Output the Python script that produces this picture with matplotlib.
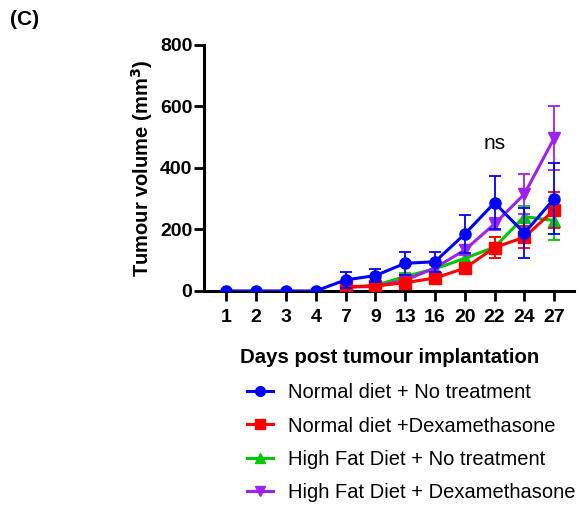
import numpy as np
import matplotlib.pyplot as plt
from matplotlib.lines import Line2D

plt.rcParams['font.family'] = ['Liberation Sans', 'DejaVu Sans']

days = ['1', '2', '3', '4', '7', '9', '13', '16', '20', '22', '24', '27']
nan = np.nan

nd_nt = [0, 0, 0, 0, 36, 50, 90, 95, 185, 287, 188, 300]
nd_nt_err = [0, 0, 0, 0, 25, 20, 38, 33, 63, 87, 81, 115]
nd_dex = [nan, nan, nan, nan, 14, 16, 27, 42, 74, 141, 175, 263]
nd_dex_err = [nan, nan, nan, nan, 5, 6, 10, 10, 12, 35, 36, 58]
hfd_nt = [nan, nan, nan, nan, 12, 18, 47, 72, 106, 142, 242, 229]
hfd_nt_err = [nan, nan, nan, nan, 5, 6, 12, 12, 15, 35, 35, 63]
hfd_dex = [nan, nan, nan, nan, 12, 15, 35, 75, 133, 218, 315, 497]
hfd_dex_err = [nan, nan, nan, nan, 5, 6, 10, 12, 15, 20, 65, 105]

labels = ['Normal diet + No treatment', 'Normal diet +Dexamethasone',
          'High Fat Diet + No treatment', 'High Fat Diet + Dexamethasone']

fig = plt.figure(figsize=(5.77, 5.05), dpi=100)
ax = fig.add_axes([0.354, 0.4238, 0.641, 0.4872])
x = np.arange(len(days))

series = [
    (hfd_nt, hfd_nt_err, '#00C800', '^', labels[2], 2),
    (hfd_dex, hfd_dex_err, '#A020F0', 'v', labels[3], 3),
    (nd_dex, nd_dex_err, '#FF0000', 's', labels[1], 4),
    (nd_nt, nd_nt_err, '#0000FF', 'o', labels[0], 5),
]
handles = {}
for vals, err, col, mk, lab, z in series:
    ax.errorbar(x, vals, yerr=err, color=col, marker=mk, markersize=8,
                linewidth=2.2, elinewidth=1.3, capsize=4.5, capthick=1.3,
                zorder=z)
    handles[lab] = Line2D([], [], color=col, marker=mk, markersize=7, linewidth=2.2)

ax.text(9, 481, 'ns', ha='center', va='center', fontsize=15)

ax.set_ylim(0, 800)
ax.set_xlim(-0.74, 11.67)
ax.set_yticks([0, 200, 400, 600, 800])
ax.set_xticks(x)
ax.set_xticklabels(days)
for t in ax.get_xticklabels() + ax.get_yticklabels():
    t.set_fontweight('bold')
ax.tick_params(axis='both', labelsize=14, width=2, length=7)
ax.tick_params(axis='y', pad=1.5)
ax.tick_params(axis='x', pad=6)
ax.spines['top'].set_visible(False)
ax.spines['right'].set_visible(False)
ax.spines['left'].set_linewidth(2.2)
ax.spines['bottom'].set_linewidth(2.2)
ax.set_ylabel('Tumour volume (mm$^\\mathbf{3}$)', fontsize=14.5, fontweight='bold', labelpad=4)
ax.set_xlabel('Days post tumour implantation', fontsize=14.7, fontweight='bold', labelpad=16)

fig.legend([handles[l] for l in labels], labels, loc='upper left',
           bbox_to_anchor=(247 / 577, 1 - 383 / 505), frameon=False, fontsize=14.5,
           handlelength=1.3, labelspacing=0.72, handletextpad=0.75, borderpad=0,
           borderaxespad=0)

fig.text(0.017, 0.962, '(C)', fontsize=15, fontweight='bold', va='center')

fig.savefig('out.png', dpi=100)
